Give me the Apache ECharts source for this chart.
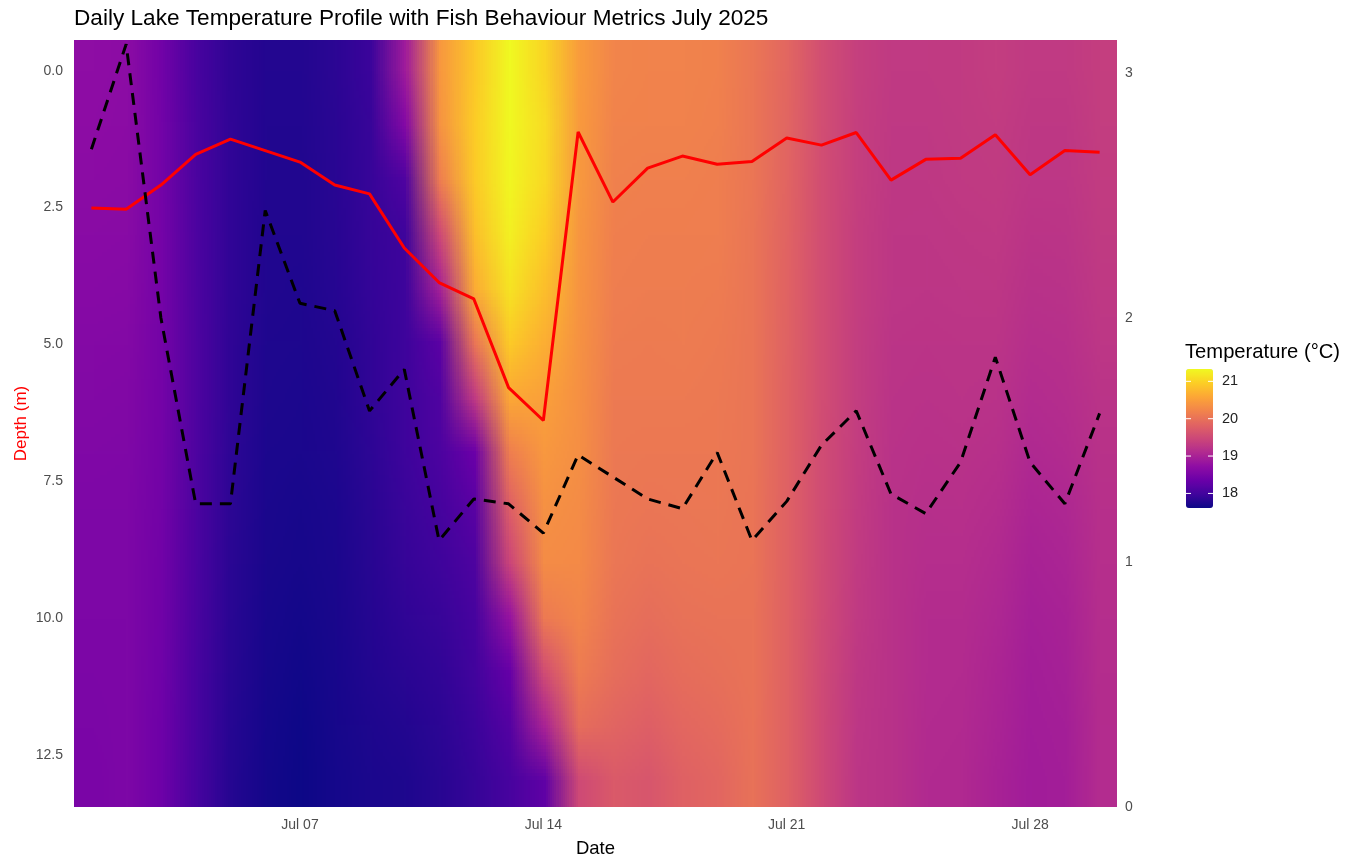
<!DOCTYPE html>
<html>
<head>
<meta charset="utf-8">
<script src="https://cdn.jsdelivr.net/npm/echarts@6/dist/echarts.min.js"></script>
<style>
html,body{margin:0;padding:0;background:#ffffff;}
#chart{width:1349px;height:858px;}
</style>
</head>
<body>
<div id="chart"></div>
<script>
// ---------------- data ----------------
const dates = [
  '2025-07-01','2025-07-02','2025-07-03','2025-07-04','2025-07-05','2025-07-06','2025-07-07',
  '2025-07-08','2025-07-09','2025-07-10','2025-07-11','2025-07-12','2025-07-13','2025-07-14',
  '2025-07-15','2025-07-16','2025-07-17','2025-07-18','2025-07-19','2025-07-20','2025-07-21',
  '2025-07-22','2025-07-23','2025-07-24','2025-07-25','2025-07-26','2025-07-27','2025-07-28',
  '2025-07-29','2025-07-30'
];
const dateTicks = ['2025-07-07','2025-07-14','2025-07-21','2025-07-28'];
const depths = [0,1,2,3,4,5,6,7,8,9,10,11,12,13];

// temperature (°C) profile for each date, from 0 m down to 13 m
const temperatureProfiles = [
  [18.72,18.71,18.69,18.67,18.65,18.62,18.60,18.58,18.56,18.55,18.54,18.53,18.52,18.51],
  [18.70,18.69,18.68,18.66,18.64,18.61,18.59,18.57,18.56,18.55,18.55,18.54,18.54,18.55],
  [18.42,18.43,18.44,18.45,18.45,18.45,18.45,18.44,18.43,18.42,18.41,18.40,18.39,18.38],
  [18.05,18.06,18.07,18.08,18.09,18.10,18.10,18.09,18.08,18.07,18.06,18.05,18.05,18.04],
  [17.85,17.86,17.86,17.86,17.86,17.85,17.85,17.84,17.83,17.82,17.81,17.80,17.79,17.78],
  [17.77,17.76,17.76,17.75,17.75,17.74,17.73,17.72,17.71,17.70,17.69,17.68,17.67,17.66],
  [17.77,17.76,17.75,17.75,17.74,17.73,17.72,17.71,17.69,17.68,17.66,17.64,17.62,17.61],
  [17.83,17.82,17.81,17.80,17.79,17.77,17.75,17.74,17.72,17.71,17.70,17.69,17.68,17.67],
  [17.94,17.92,17.91,17.90,17.89,17.87,17.86,17.84,17.82,17.80,17.78,17.76,17.73,17.71],
  [18.90,18.62,18.12,17.97,17.96,17.96,17.97,17.96,17.93,17.90,17.86,17.82,17.77,17.73],
  [20.42,20.38,20.14,19.50,18.98,18.22,18.12,18.08,18.03,17.97,17.92,17.87,17.83,17.80],
  [20.90,20.94,20.92,20.82,20.64,20.04,19.30,18.36,18.20,18.10,18.04,17.99,17.94,17.90],
  [21.33,21.32,21.30,21.25,21.14,20.92,20.60,20.15,19.78,19.45,18.80,18.32,18.15,18.05],
  [21.02,21.08,21.05,20.96,20.82,20.66,20.52,20.43,20.36,20.30,20.10,19.55,19.00,18.25],
  [20.48,20.46,20.44,20.41,20.39,20.37,20.35,20.33,20.30,20.28,20.22,20.12,19.95,19.50],
  [20.22,20.20,20.18,20.16,20.14,20.12,20.10,20.09,20.08,20.06,20.02,19.96,19.85,19.72],
  [20.20,20.19,20.17,20.15,20.13,20.11,20.10,20.08,20.05,20.02,19.96,19.88,19.78,19.66],
  [20.20,20.19,20.17,20.15,20.13,20.12,20.10,20.08,20.06,20.04,20.00,19.95,19.88,19.80],
  [20.18,20.17,20.15,20.14,20.12,20.10,20.09,20.08,20.07,20.05,20.02,19.98,19.92,19.86],
  [20.05,20.05,20.05,20.04,20.04,20.04,20.04,20.04,20.03,20.03,20.02,20.02,20.01,20.00],
  [19.86,19.85,19.84,19.83,19.82,19.81,19.80,19.80,19.80,19.80,19.80,19.80,19.80,19.80],
  [19.56,19.56,19.55,19.55,19.55,19.55,19.55,19.54,19.54,19.53,19.52,19.51,19.50,19.50],
  [19.38,19.37,19.37,19.36,19.36,19.35,19.35,19.34,19.33,19.32,19.30,19.28,19.26,19.25],
  [19.30,19.29,19.28,19.27,19.26,19.24,19.22,19.21,19.20,19.20,19.20,19.20,19.20,19.20],
  [19.30,19.29,19.28,19.26,19.25,19.23,19.21,19.19,19.17,19.15,19.13,19.12,19.11,19.10],
  [19.32,19.31,19.30,19.28,19.26,19.24,19.22,19.20,19.18,19.15,19.13,19.11,19.10,19.09],
  [19.35,19.33,19.31,19.29,19.27,19.24,19.21,19.18,19.14,19.10,19.07,19.04,19.02,19.00],
  [19.30,19.28,19.26,19.23,19.20,19.16,19.12,19.08,19.04,19.00,18.97,18.95,18.93,18.92],
  [19.30,19.28,19.26,19.24,19.21,19.18,19.15,19.11,19.07,19.03,19.00,18.98,18.96,18.95],
  [19.36,19.35,19.33,19.31,19.29,19.26,19.22,19.20,19.18,19.16,19.15,19.14,19.13,19.12]
];

// mean fish depth (m) - left axis, red line
const fishDepth = [2.51,2.53,2.09,1.53,1.25,1.46,1.67,2.09,2.25,3.24,3.87,4.17,5.79,6.39,
  1.12,2.40,1.78,1.56,1.71,1.66,1.23,1.36,1.13,2.00,1.62,1.60,1.17,1.90,1.46,1.49];
// fish activity metric - right axis, black dashed line
const activityIndex = [2.69,3.12,2.00,1.24,1.24,2.44,2.06,2.03,1.62,1.79,1.09,1.26,1.24,1.12,
  1.44,1.35,1.26,1.22,1.45,1.09,1.25,1.48,1.62,1.28,1.20,1.41,1.84,1.41,1.24,1.61];

const depthTicks = [0, 2.5, 5, 7.5, 10, 12.5];
const activityTicks = [0, 1, 2, 3];
const legendTicks = [18, 19, 20, 21];
const tempMin = 17.61, tempMax = 21.33;
const depthMin = -0.56, depthMax = 13.45;
const activityMin = 0, activityMax = 3.137;

const plasma = ['#0d0887','#41049d','#6a00a8','#8f0da4','#b12a90','#cc4778',
                '#e16462','#f2844b','#fca636','#fcce25','#f0f921'];

// ---------------- helpers ----------------
function hexRGB(h){ return [parseInt(h.slice(1,3),16),parseInt(h.slice(3,5),16),parseInt(h.slice(5,7),16)]; }
function plasmaRGB(f){
  f = Math.max(0, Math.min(1, f));
  const p = f * (plasma.length - 1);
  const k = Math.min(Math.floor(p), plasma.length - 2);
  const u = p - k;
  const a = hexRGB(plasma[k]), b = hexRGB(plasma[k+1]);
  return [a[0]+(b[0]-a[0])*u, a[1]+(b[1]-a[1])*u, a[2]+(b[2]-a[2])*u];
}
// small raster: one pixel per (date, depth) cell; scaled smoothly when drawn
const raster = document.createElement('canvas');
raster.width = dates.length; raster.height = depths.length;
(function(){
  const ctx = raster.getContext('2d');
  const img = ctx.createImageData(raster.width, raster.height);
  for (let i = 0; i < dates.length; i++) {
    for (let j = 0; j < depths.length; j++) {
      const c = plasmaRGB((temperatureProfiles[i][j] - tempMin) / (tempMax - tempMin));
      const o = (j * raster.width + i) * 4;
      img.data[o] = Math.round(c[0]); img.data[o+1] = Math.round(c[1]);
      img.data[o+2] = Math.round(c[2]); img.data[o+3] = 255;
    }
  }
  ctx.putImageData(img, 0, 0);
})();

const cells = [];
for (let i = 0; i < dates.length; i++)
  for (let j = 0; j < depths.length; j++)
    cells.push([i, depths[j], temperatureProfiles[i][j]]);

// ---------------- chart ----------------
const chart = echarts.init(document.getElementById('chart'), null, {renderer: 'canvas'});
const FONT = 'Liberation Sans, Arial, sans-serif';

const legendLeft = 1186, legendTop = 369, legendW = 27, legendH = 139;
function legendY(v){ return legendTop + legendH * (tempMax - v) / (tempMax - tempMin); }
const legendGraphics = [{
  type: 'text', left: 1185, top: 342,
  style: {text: 'Temperature (°C)', fontSize: 20.2, fontFamily: FONT, fill: '#000000'}
}];
legendTicks.forEach(v => {
  const y = legendY(v);
  legendGraphics.push({type:'line', shape:{x1:legendLeft, y1:y, x2:legendLeft+5, y2:y}, style:{stroke:'#ffffff', lineWidth:1}, z: 100});
  legendGraphics.push({type:'line', shape:{x1:legendLeft+legendW-5, y1:y, x2:legendLeft+legendW, y2:y}, style:{stroke:'#ffffff', lineWidth:1}, z: 100});
  legendGraphics.push({type:'text', x: 1222, y: y, style:{text: String(v), fontSize: 14.5, fontFamily: FONT, fill:'#222222', textVerticalAlign:'middle'}, z: 100});
});

const option = {
  backgroundColor: '#ffffff',
  animation: false,
  title: {
    text: 'Daily Lake Temperature Profile with Fish Behaviour Metrics July 2025',
    left: 74, top: 7, padding: 0,
    textStyle: {fontSize: 22.6, fontWeight: 'normal', color: '#000000', fontFamily: FONT}
  },
  grid: {left: 74, right: 232, top: 40, bottom: 51, containLabel: false, outerBoundsMode: 'none'},
  xAxis: {
    type: 'category', data: dates, boundaryGap: true,
    name: 'Date', nameLocation: 'middle', nameGap: 32, nameMoveOverlap: false,
    nameTextStyle: {fontSize: 18.5, color: '#000000', fontFamily: FONT},
    axisLine: {show: false}, axisTick: {show: false}, splitLine: {show: false},
    axisLabel: {
      interval: (idx, val) => dateTicks.includes(val),
      formatter: v => 'Jul ' + v.slice(8, 10),
      fontSize: 14, color: '#4d4d4d', margin: 11, fontFamily: FONT
    }
  },
  yAxis: [{
    type: 'value', inverse: true, min: depthMin, max: depthMax,
    name: 'Depth (m)', nameLocation: 'middle', nameGap: 44, nameMoveOverlap: false,
    nameTextStyle: {fontSize: 17, color: '#ff0000', fontFamily: FONT},
    axisLine: {show: false}, axisTick: {show: false, customValues: depthTicks}, splitLine: {show: false},
    axisLabel: {customValues: depthTicks, formatter: v => v.toFixed(1), fontSize: 14, color: '#4d4d4d', margin: 11, fontFamily: FONT}
  }, {
    type: 'value', position: 'right', min: activityMin, max: activityMax,
    axisLine: {show: false}, axisTick: {show: false, customValues: activityTicks}, splitLine: {show: false},
    axisLabel: {customValues: activityTicks, formatter: v => String(Math.round(v)), fontSize: 14, color: '#4d4d4d', margin: 8, fontFamily: FONT}
  }],
  visualMap: {
    type: 'continuous', min: tempMin, max: tempMax, dimension: 2, seriesIndex: 0,
    orient: 'vertical', left: legendLeft, top: legendTop, itemWidth: legendW, itemHeight: legendH,
    calculable: false, padding: 0, text: null, hoverLink: false,
    inRange: {color: plasma}
  },
  graphic: legendGraphics,
  series: [{
    type: 'custom', name: 'Temperature', coordinateSystem: 'cartesian2d',
    xAxisIndex: 0, yAxisIndex: 0, data: cells, silent: true, z: 1,
    renderItem: function (params, api) {
      if (params.dataIndex !== 0) return null;
      const bw = api.size([1, 0])[0];
      const p0 = api.coord([0, depthMin]);
      const p1 = api.coord([dates.length - 1, depthMax]);
      const x = p0[0] - bw / 2;
      return {
        type: 'image',
        style: {image: raster, x: x, y: p0[1], width: (p1[0] + bw / 2) - x, height: p1[1] - p0[1]}
      };
    }
  }, {
    type: 'line', name: 'Fish depth', xAxisIndex: 0, yAxisIndex: 0, data: fishDepth,
    symbol: 'none', z: 3,
    lineStyle: {color: '#ff0000', width: 3}
  }, {
    type: 'line', name: 'Activity', xAxisIndex: 0, yAxisIndex: 1, data: activityIndex,
    symbol: 'none', z: 4,
    lineStyle: {color: '#000000', width: 3, type: [12, 8]}
  }]
};
chart.setOption(option);
</script>
</body>
</html>
